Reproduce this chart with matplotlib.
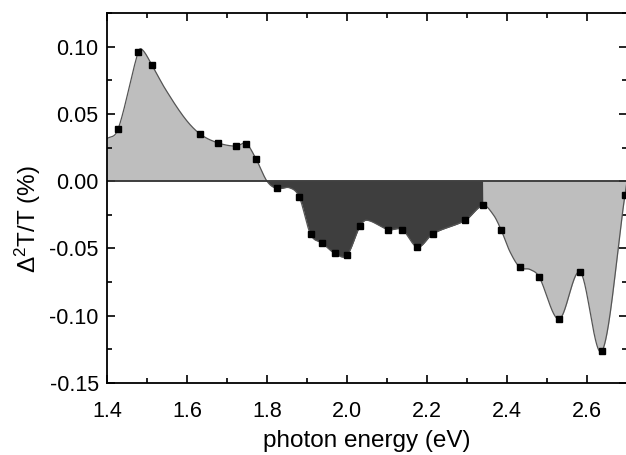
import numpy as np
import matplotlib
matplotlib.use('Agg')
import matplotlib.pyplot as plt
from matplotlib.ticker import MultipleLocator, FormatStrFormatter

plt.rcParams['font.family'] = ['Liberation Sans', 'DejaVu Sans']
plt.rcParams['mathtext.fontset'] = 'custom'
plt.rcParams['mathtext.rm'] = 'Liberation Sans'
plt.rcParams['mathtext.it'] = 'Liberation Sans'

# measured points (photon energy in eV, signal in %)
energy = [1.428, 1.478, 1.513, 1.633, 1.677, 1.723, 1.748, 1.773, 1.824, 1.881,
          1.909, 1.938, 1.969, 2.000, 2.033, 2.103, 2.138, 2.176, 2.215, 2.296,
          2.340, 2.385, 2.432, 2.480, 2.530, 2.583, 2.638, 2.695]
signal = [0.039, 0.096, 0.086, 0.035, 0.0285, 0.026, 0.028, 0.0163, -0.0054, -0.012,
          -0.0396, -0.046, -0.0535, -0.055, -0.033, -0.036, -0.036, -0.049, -0.039, -0.029,
          -0.018, -0.036, -0.064, -0.071, -0.1025, -0.0676, -0.126, -0.0099]

# extra points of the smooth guide line
curve_e = [1.400, 1.489, 1.545, 1.595, 1.800, 1.8575, 2.050, 2.366, 2.4075, 2.4575]
curve_s = [0.0315, 0.0975, 0.0689, 0.0466, 0.000, -0.005, -0.029, -0.025, -0.0525, -0.0656]

split_e = 2.34  # dark / light boundary in the negative region


def hermite(xk, yk, xs):
    xk = np.asarray(xk, float)
    yk = np.asarray(yk, float)
    m = np.zeros_like(yk)
    m[1:-1] = (yk[2:] - yk[:-2]) / (xk[2:] - xk[:-2])
    m[0] = (yk[1] - yk[0]) / (xk[1] - xk[0])
    m[-1] = (yk[-1] - yk[-2]) / (xk[-1] - xk[-2])
    i = np.clip(np.searchsorted(xk, xs) - 1, 0, len(xk) - 2)
    h = xk[i + 1] - xk[i]
    t = (xs - xk[i]) / h
    h00 = 2 * t**3 - 3 * t**2 + 1
    h10 = t**3 - 2 * t**2 + t
    h01 = -2 * t**3 + 3 * t**2
    h11 = t**3 - t**2
    return h00 * yk[i] + h10 * h * m[i] + h01 * yk[i + 1] + h11 * h * m[i + 1]


ke = np.array(energy + curve_e)
ks = np.array(signal + curve_s)
order = np.argsort(ke)
ke, ks = ke[order], ks[order]
xs = np.linspace(1.4, 2.7, 2000)
ys = hermite(ke, ks, xs)

fig = plt.figure(figsize=(6.26, 4.55), dpi=100)
ax = fig.add_axes([107 / 626, 72 / 455, 520 / 626, 370 / 455])

light = '#bebebe'
dark = '#3e3e3e'
ax.fill_between(xs, ys, 0, where=ys >= 0, color=light, lw=0, interpolate=True)
ax.fill_between(xs, ys, 0, where=(ys <= 0) & (xs <= split_e), color=dark, lw=0, interpolate=True)
ax.fill_between(xs, ys, 0, where=(ys <= 0) & (xs >= split_e), color=light, lw=0, interpolate=True)
ax.plot(xs, ys, color='#555555', lw=0.9)
ax.axhline(0, color='#333333', lw=1.3)
ax.plot(energy, signal, 's', color='black', ms=5)

ax.set_xlim(1.4, 2.7)
ax.set_ylim(-0.15, 0.125)
ax.xaxis.set_major_locator(MultipleLocator(0.2))
ax.xaxis.set_minor_locator(MultipleLocator(0.1))
ax.yaxis.set_major_locator(MultipleLocator(0.05))
ax.yaxis.set_minor_locator(MultipleLocator(0.025))
ax.xaxis.set_major_formatter(FormatStrFormatter('%.1f'))
ax.yaxis.set_major_formatter(FormatStrFormatter('%.2f'))
ax.tick_params(which='both', direction='in', top=True, right=True, labelsize=15.5, width=1.2)
ax.tick_params(which='major', length=6)
ax.tick_params(which='minor', length=3.5)
ax.tick_params(axis='x', which='major', pad=13)
ax.tick_params(axis='y', which='major', pad=6)
for s in ax.spines.values():
    s.set_linewidth(1.3)

ax.set_xlabel('photon energy (eV)', fontsize=17.5, labelpad=6)
ax.set_ylabel(r'$\Delta^2$T/T (%)', fontsize=17.5)
ax.yaxis.set_label_coords(-0.123, 0.443)

fig.savefig('out.png', dpi=100)
